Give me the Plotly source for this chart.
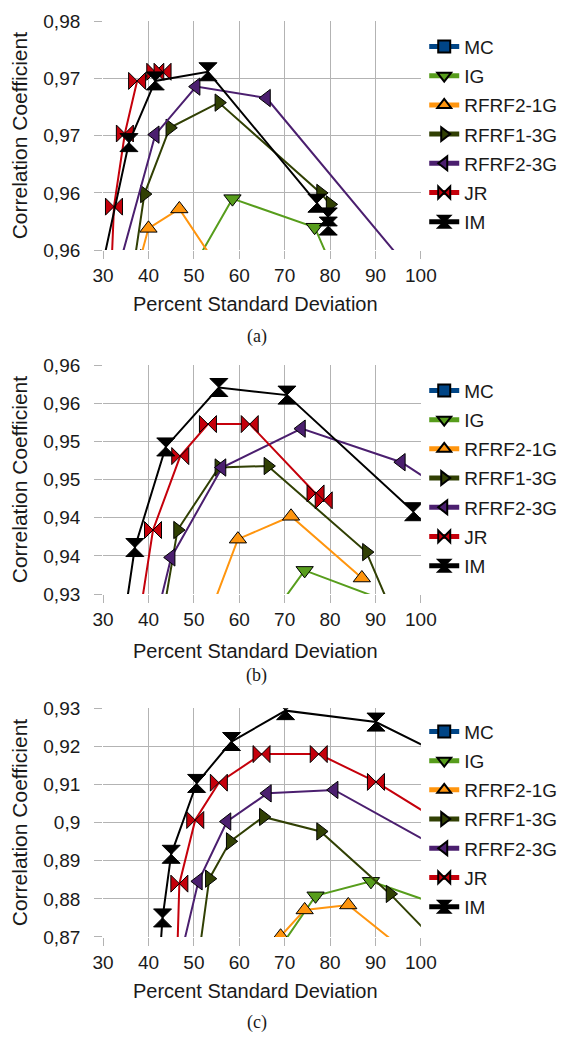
import plotly.graph_objects as go

# ---------------- data ----------------
SERIES = ["MC", "IG", "RFRF2-1G", "RFRF1-3G", "RFRF2-3G", "JR", "IM"]
COLORS = ["#004586", "#579d1c", "#ff950e", "#314004", "#4b1f6f", "#c5000b", "#000000"]
SYMBOLS = ["square", "triangle-down", "triangle-up", "triangle-right", "triangle-left", "bowtie", "hourglass"]

X_TICKS = [30, 40, 50, 60, 70, 80, 90, 100]
X_TICK_TEXT = ["30", "40", "50", "60", "70", "80", "90", "100"]

# panel (a)  (MC lies outside the plotted range: legend entry only)
A_Y_TICKS = [0.96, 0.965, 0.97, 0.975, 0.98]
A_Y_TICK_TEXT = ["0,96", "0,96", "0,97", "0,97", "0,98"]
A_MC_X = [None]
A_MC_Y = [None]
A_IG_X = [50.0, 58.5, 76.6, 80.0]
A_IG_Y = [0.9586, 0.9645, 0.9620, 0.9589]
A_R21_X = [38.3, 40.0, 46.8, 55.0]
A_R21_Y = [0.9594, 0.9619, 0.9636, 0.9587]
A_R13_X = [36.8, 39.1, 44.7, 55.5, 77.9, 80.0]
A_R13_Y = [0.9587, 0.9649, 0.9707, 0.9729, 0.9650, 0.9640]
A_R23_X = [33.0, 41.5, 50.5, 66.0, 96.0]
A_R23_Y = [0.9578, 0.9701, 0.9743, 0.9733, 0.9590]
A_JR_X = [31.8, 32.4, 34.8, 37.5, 41.5, 43.1]
A_JR_Y = [0.9580, 0.9638, 0.9702, 0.9748, 0.9756, 0.9756]
A_IM_X = [29.5, 35.7, 41.5, 53.1, 77.1, 79.6, 79.6]
A_IM_Y = [0.9580, 0.9694, 0.9748, 0.9756, 0.9641, 0.9629, 0.9621]

# panel (b)
B_Y_TICKS = [0.93, 0.935, 0.94, 0.945, 0.95, 0.955, 0.96]
B_Y_TICK_TEXT = ["0,93", "0,94", "0,94", "0,95", "0,95", "0,96", "0,96"]
B_MC_X = [None]
B_MC_Y = [None]
B_IG_X = [67.0, 74.4, 95.0]
B_IG_Y = [0.9270, 0.9331, 0.9285]
B_R21_X = [52.0, 59.7, 71.4, 87.0]
B_R21_Y = [0.9250, 0.9372, 0.9402, 0.9321]
B_R13_X = [42.0, 46.4, 55.5, 66.3, 88.0, 97.0]
B_R13_Y = [0.9230, 0.9384, 0.9466, 0.9468, 0.9355, 0.9230]
B_R23_X = [41.0, 45.0, 56.2, 73.7, 95.7, 108.0]
B_R23_Y = [0.9250, 0.9348, 0.9466, 0.9517, 0.9473, 0.9425]
B_JR_X = [37.0, 41.0, 47.0, 53.1, 62.3, 76.8, 78.6]
B_JR_Y = [0.9230, 0.9384, 0.9481, 0.9523, 0.9523, 0.9432, 0.9423]
B_IM_X = [34.0, 37.0, 43.8, 55.5, 70.5, 98.4]
B_IM_Y = [0.9240, 0.9361, 0.9493, 0.9571, 0.9561, 0.9408]

# panel (c)
C_Y_TICKS = [0.87, 0.88, 0.89, 0.90, 0.91, 0.92, 0.93]
C_Y_TICK_TEXT = ["0,87", "0,88", "0,89", "0,9", "0,91", "0,92", "0,93"]
C_MC_X = [None]
C_MC_Y = [None]
C_IG_X = [66.0, 76.8, 89.0, 105.0]
C_IG_Y = [0.8620, 0.8808, 0.8846, 0.8780]
C_R21_X = [69.1, 74.4, 84.0, 98.0]
C_R21_Y = [0.8702, 0.8771, 0.8784, 0.8650]
C_R13_X = [50.5, 53.4, 58.0, 65.3, 77.9, 93.2, 104.0]
C_R13_Y = [0.8600, 0.8853, 0.8951, 0.9015, 0.8977, 0.8813, 0.8680]
C_R23_X = [46.5, 51.0, 57.3, 66.2, 80.9, 106.0]
C_R23_Y = [0.8620, 0.8846, 0.9003, 0.9077, 0.9086, 0.8920]
C_JR_X = [46.2, 46.8, 50.3, 55.5, 64.9, 77.5, 90.1, 106.0]
C_JR_Y = [0.8600, 0.8840, 0.9007, 0.9105, 0.9180, 0.9180, 0.9107, 0.8990]
C_IM_X = [42.2, 43.1, 45.0, 50.6, 58.3, 70.2, 90.1, 106.0]
C_IM_Y = [0.8600, 0.8750, 0.8917, 0.9103, 0.9213, 0.9294, 0.9264, 0.9170]

PANELS = [
    ("a", [(A_MC_X, A_MC_Y), (A_IG_X, A_IG_Y), (A_R21_X, A_R21_Y), (A_R13_X, A_R13_Y),
           (A_R23_X, A_R23_Y), (A_JR_X, A_JR_Y), (A_IM_X, A_IM_Y)], A_Y_TICKS, A_Y_TICK_TEXT),
    ("b", [(B_MC_X, B_MC_Y), (B_IG_X, B_IG_Y), (B_R21_X, B_R21_Y), (B_R13_X, B_R13_Y),
           (B_R23_X, B_R23_Y), (B_JR_X, B_JR_Y), (B_IM_X, B_IM_Y)], B_Y_TICKS, B_Y_TICK_TEXT),
    ("c", [(C_MC_X, C_MC_Y), (C_IG_X, C_IG_Y), (C_R21_X, C_R21_Y), (C_R13_X, C_R13_Y),
           (C_R23_X, C_R23_Y), (C_JR_X, C_JR_Y), (C_IM_X, C_IM_Y)], C_Y_TICKS, C_Y_TICK_TEXT),
]

# ---------------- layout geometry (pixels) ----------------
W, H = 564, 1044
PLOT_L, PLOT_R = 96.7, 430.5
PLOT_TB = [(11.7, 245.0), (362.7, 596.0), (712.7, 946.0)]
LEGEND_FIRST = [47, 398, 746]
XTITLE_Y = [300, 654, 1001]
CAPTION_Y = [333, 679, 1033]
CAPTIONS = ["(a)", "(b)", "(c)"]

FONT = "Liberation Sans, Arial, sans-serif"


def px(x):
    return x / W


def py(y):
    return 1 - y / H


fig = go.Figure()
annotations = []
layout = dict(
    width=W, height=H,
    margin=dict(l=0, r=0, t=0, b=0),
    paper_bgcolor="white", plot_bgcolor="white",
    font=dict(family=FONT, size=19, color="#1a1a1a"),
)

SIZES = [11, 15, 15, 15, 15, 17, 18]

for i, (name, series, yt, ytt) in enumerate(PANELS):
    sfx = "" if i == 0 else str(i + 1)
    top, bot = PLOT_TB[i]
    legname = "legend" if i == 0 else "legend" + str(i + 1)
    for k, (xs, ys) in enumerate(series):
        fig.add_trace(go.Scatter(
            x=xs, y=ys, mode="lines+markers", name=SERIES[k],
            xaxis="x" + sfx, yaxis="y" + sfx,
            line=dict(color=COLORS[k], width=2),
            marker=dict(symbol=SYMBOLS[k], size=SIZES[k], color=COLORS[k],
                        line=dict(color="#000000", width=1)),
            legend=legname, legendgroup=name + SERIES[k],
        ))
    layout["xaxis" + sfx] = dict(
        domain=[px(PLOT_L), px(PLOT_R)], anchor="y" + sfx, range=[30, 100],
        tickvals=X_TICKS, ticktext=X_TICK_TEXT, showgrid=True, gridcolor="#b3b3b3",
        gridwidth=1, zeroline=False, showline=False, ticks="outside", ticklen=8,
        tickcolor="#b3b3b3", tickfont=dict(size=19, family=FONT, color="#1a1a1a"),
    )
    layout["yaxis" + sfx] = dict(
        domain=[py(bot), py(top)], anchor="x" + sfx, range=[yt[0], yt[-1]],
        tickvals=yt, ticktext=ytt, showgrid=True, gridcolor="#b3b3b3",
        gridwidth=1, zeroline=False, showline=False, ticks="outside", ticklen=8,
        tickcolor="#b3b3b3", tickfont=dict(size=19, family=FONT, color="#1a1a1a"),
        ticklabelstandoff=10,
    )
    layout[legname] = dict(
        x=px(434), xanchor="left", y=py(LEGEND_FIRST[i] - 29), yanchor="top",
        font=dict(size=19, family=FONT, color="#1a1a1a"),
        bgcolor="rgba(0,0,0,0)", itemsizing="constant", tracegroupgap=1.5,
        itemclick=False, itemdoubleclick=False,
    )
    annotations.append(dict(
        text="Correlation Coefficient", x=px(9), y=py((top + bot) / 2),
        xref="paper", yref="paper", showarrow=False, textangle=-90,
        xanchor="center", yanchor="middle",
        font=dict(size=21, family=FONT, color="#1a1a1a"),
    ))
    annotations.append(dict(
        text="Percent Standard Deviation", x=px(257), y=py(XTITLE_Y[i]),
        xref="paper", yref="paper", showarrow=False,
        xanchor="center", yanchor="middle",
        font=dict(size=20, family=FONT, color="#1a1a1a"),
    ))
    annotations.append(dict(
        text=CAPTIONS[i], x=px(258), y=py(CAPTION_Y[i]),
        xref="paper", yref="paper", showarrow=False,
        xanchor="center", yanchor="middle",
        font=dict(size=18, family="Liberation Serif, Times New Roman, serif", color="#1a1a1a"),
    ))

layout["annotations"] = annotations
fig.update_layout(**layout)
fig.write_html("out.html")
